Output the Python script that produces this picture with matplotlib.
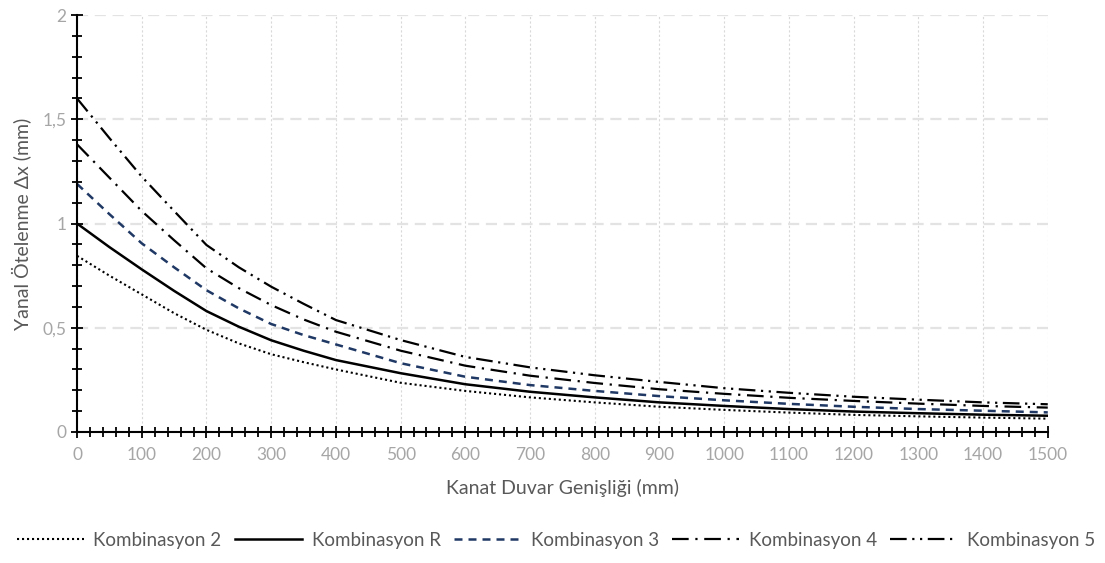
import matplotlib
matplotlib.use("Agg")
import matplotlib.pyplot as plt
from matplotlib.ticker import MultipleLocator, FuncFormatter

# Wing wall width (mm) and lateral displacement (mm) for each combination
genislik = [0, 50, 100, 150, 200, 250, 300, 350, 400, 500, 600, 700, 800,
            900, 1000, 1100, 1200, 1300, 1400, 1500]
komb_2 = [0.845, 0.75, 0.66, 0.57, 0.49, 0.425, 0.373, 0.335, 0.30, 0.236,
          0.197, 0.166, 0.142, 0.121, 0.106, 0.093, 0.082, 0.075, 0.069, 0.064]
komb_r = [1.0, 0.887, 0.78, 0.677, 0.58, 0.505, 0.44, 0.39, 0.345, 0.282,
          0.229, 0.193, 0.166, 0.142, 0.125, 0.11, 0.098, 0.09, 0.083, 0.078]
komb_3 = [1.19, 1.045, 0.905, 0.79, 0.68, 0.593, 0.518, 0.465, 0.42, 0.33,
          0.265, 0.225, 0.197, 0.172, 0.152, 0.135, 0.121, 0.11, 0.102, 0.094]
komb_4 = [1.38, 1.22, 1.06, 0.92, 0.785, 0.69, 0.609, 0.54, 0.481, 0.39,
          0.318, 0.27, 0.235, 0.205, 0.183, 0.164, 0.149, 0.136, 0.125, 0.117]
komb_5 = [1.6, 1.41, 1.225, 1.06, 0.897, 0.79, 0.697, 0.615, 0.537, 0.441,
          0.36, 0.31, 0.272, 0.24, 0.21, 0.188, 0.169, 0.155, 0.142, 0.133]

label_color = '#595959'
tick_color = '#a6a6a6'
grid_color = '#d9d9d9'
text_font = ['Lato', 'DejaVu Sans']

fig = plt.figure(figsize=(11.05, 5.63), dpi=100)
ax = fig.add_axes([0.0697, 0.2327, 0.8785, 0.7406])

ax.plot(genislik, komb_2, color='black', lw=1.5, linestyle=(0, (1, 1.4)),
        label='Kombinasyon 2')
ax.plot(genislik, komb_r, color='black', lw=1.8, label='Kombinasyon R')
ax.plot(genislik, komb_3, color='#1f3864', lw=1.8, linestyle=(0, (3.2, 2.4)),
        label='Kombinasyon 3')
ax.plot(genislik, komb_4, color='black', lw=1.6, linestyle=(0, (7.5, 3, 1, 3)),
        label='Kombinasyon 4')
ax.plot(genislik, komb_5, color='black', lw=1.6,
        linestyle=(0, (7.5, 2.5, 1, 2.5, 1, 2.5)), label='Kombinasyon 5')

ax.set_xlim(0, 1500)
ax.set_ylim(0, 2)

ax.xaxis.set_major_locator(MultipleLocator(100))
ax.xaxis.set_minor_locator(MultipleLocator(20))
ax.yaxis.set_major_locator(MultipleLocator(0.5))
ax.yaxis.set_minor_locator(MultipleLocator(0.1))
ax.yaxis.set_major_formatter(FuncFormatter(lambda v, p: f'{v:g}'.replace('.', ',')))

# vertical dotted grid every 100, horizontal dashed grid every 0.5
ax.grid(True, axis='x', which='major', color=grid_color, lw=0.8, linestyle=(0, (2, 2)))
ax.grid(True, axis='y', which='major', color='#e3e3e3', lw=1.6, linestyle=(0, (5, 3)))
ax.set_axisbelow(True)

for side in ['top', 'right']:
    ax.spines[side].set_visible(False)
for side in ['left', 'bottom']:
    ax.spines[side].set_linewidth(1.5)
    ax.spines[side].set_color('black')

ax.tick_params(axis='both', which='major', direction='inout', length=9, width=1.3,
               color='black', labelcolor=tick_color, labelsize=12.5)
ax.tick_params(axis='both', which='minor', direction='inout', length=7, width=1.3,
               color='black')
ax.tick_params(axis='x', which='major', pad=6)
ax.tick_params(axis='y', which='major', pad=3)
for lbl in ax.get_xticklabels() + ax.get_yticklabels():
    lbl.set_fontfamily(text_font)

ax.set_xlabel('Kanat Duvar Genişliği (mm)', color=label_color, fontsize=14,
              family=text_font, labelpad=12)
ax.set_ylabel('Yanal Ötelenme Δx (mm)', color=label_color, fontsize=14,
              family=text_font, labelpad=8)

leg = fig.legend(loc='center', bbox_to_anchor=(0.503, 0.04), ncol=5, frameon=False,
                 handlelength=3.6, handletextpad=0.5, columnspacing=0.7,
                 prop={'family': text_font, 'size': 13.5})
for t in leg.get_texts():
    t.set_color(label_color)

fig.savefig('out.png', dpi=100)
